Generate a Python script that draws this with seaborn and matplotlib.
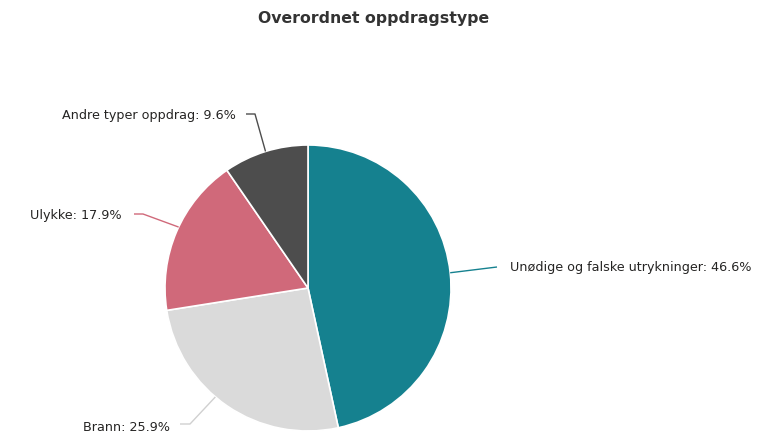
import numpy as np
import matplotlib
matplotlib.use("Agg")
import matplotlib.pyplot as plt
import seaborn as sns

# data
kategorier = ["Unødige og falske utrykninger", "Brann", "Ulykke", "Andre typer oppdrag"]
andeler = [46.6, 25.9, 17.9, 9.6]
farger = ["#15818F", "#DADADA", "#D0697A", "#4D4D4D"]

sns.set_theme(style="white")
plt.rcParams["font.family"] = ["DejaVu Sans"]

W, H = 761, 439
R = 143.0          # pie radius in pixels
CX, CY = 308, 289  # pie centre in pixels (from top)

fig = plt.figure(figsize=(W / 100, H / 100), dpi=100)
ax = fig.add_axes([0, 0, 1, 1])


def px(x, y):
    """pikselkoordinater (fra topp) -> datakoordinater"""
    return (x - CX) / R, (CY - y) / R


wedges, _ = ax.pie(andeler, colors=farger, startangle=90, counterclock=False,
                   radius=1.0, center=(0, 0), frame=True,
                   wedgeprops=dict(edgecolor="white", linewidth=1.2))
ax.set_xlim(-CX / R, (W - CX) / R)
ax.set_ylim(-(H - CY) / R, CY / R)
ax.set_aspect("equal")
ax.axis("off")

# leader-linjer: vinkeljustering, knekkpunkt, endepunkt, tekstplassering (piksler)
ledere = [
    (0, (497, 268), (497, 268), (510, 268), "left"),
    (-6, (190, 425), (180, 425), (170, 428), "right"),
    (-2, (143, 215), (134, 215), (122, 216), "right"),
    (0, (255, 115), (246, 115), (236, 116), "right"),
]

for w, navn, verdi, farge, (dv, knekk, slutt, tekst, ha) in zip(
        wedges, kategorier, andeler, farger, ledere):
    vinkel = np.deg2rad((w.theta1 + w.theta2) / 2 + dv)
    start = (np.cos(vinkel), np.sin(vinkel))
    punkter = [start, px(*knekk), px(*slutt)]
    xs, ys = zip(*punkter)
    linjefarge = farge if farge != "#DADADA" else "#D0D0D0"
    ax.plot(xs, ys, color=linjefarge, lw=1.0, solid_capstyle="butt")
    tx, ty = px(*tekst)
    ax.text(tx, ty, f"{navn}: {verdi}%", ha=ha, va="center",
            fontsize=9.2, color="#252423")

fig.text(374 / W, 1 - 18 / H, "Overordnet oppdragstype", ha="center", va="center",
         fontsize=11.3, fontweight="bold", color="#333333")

fig.savefig("out.png", dpi=100, facecolor="white")
